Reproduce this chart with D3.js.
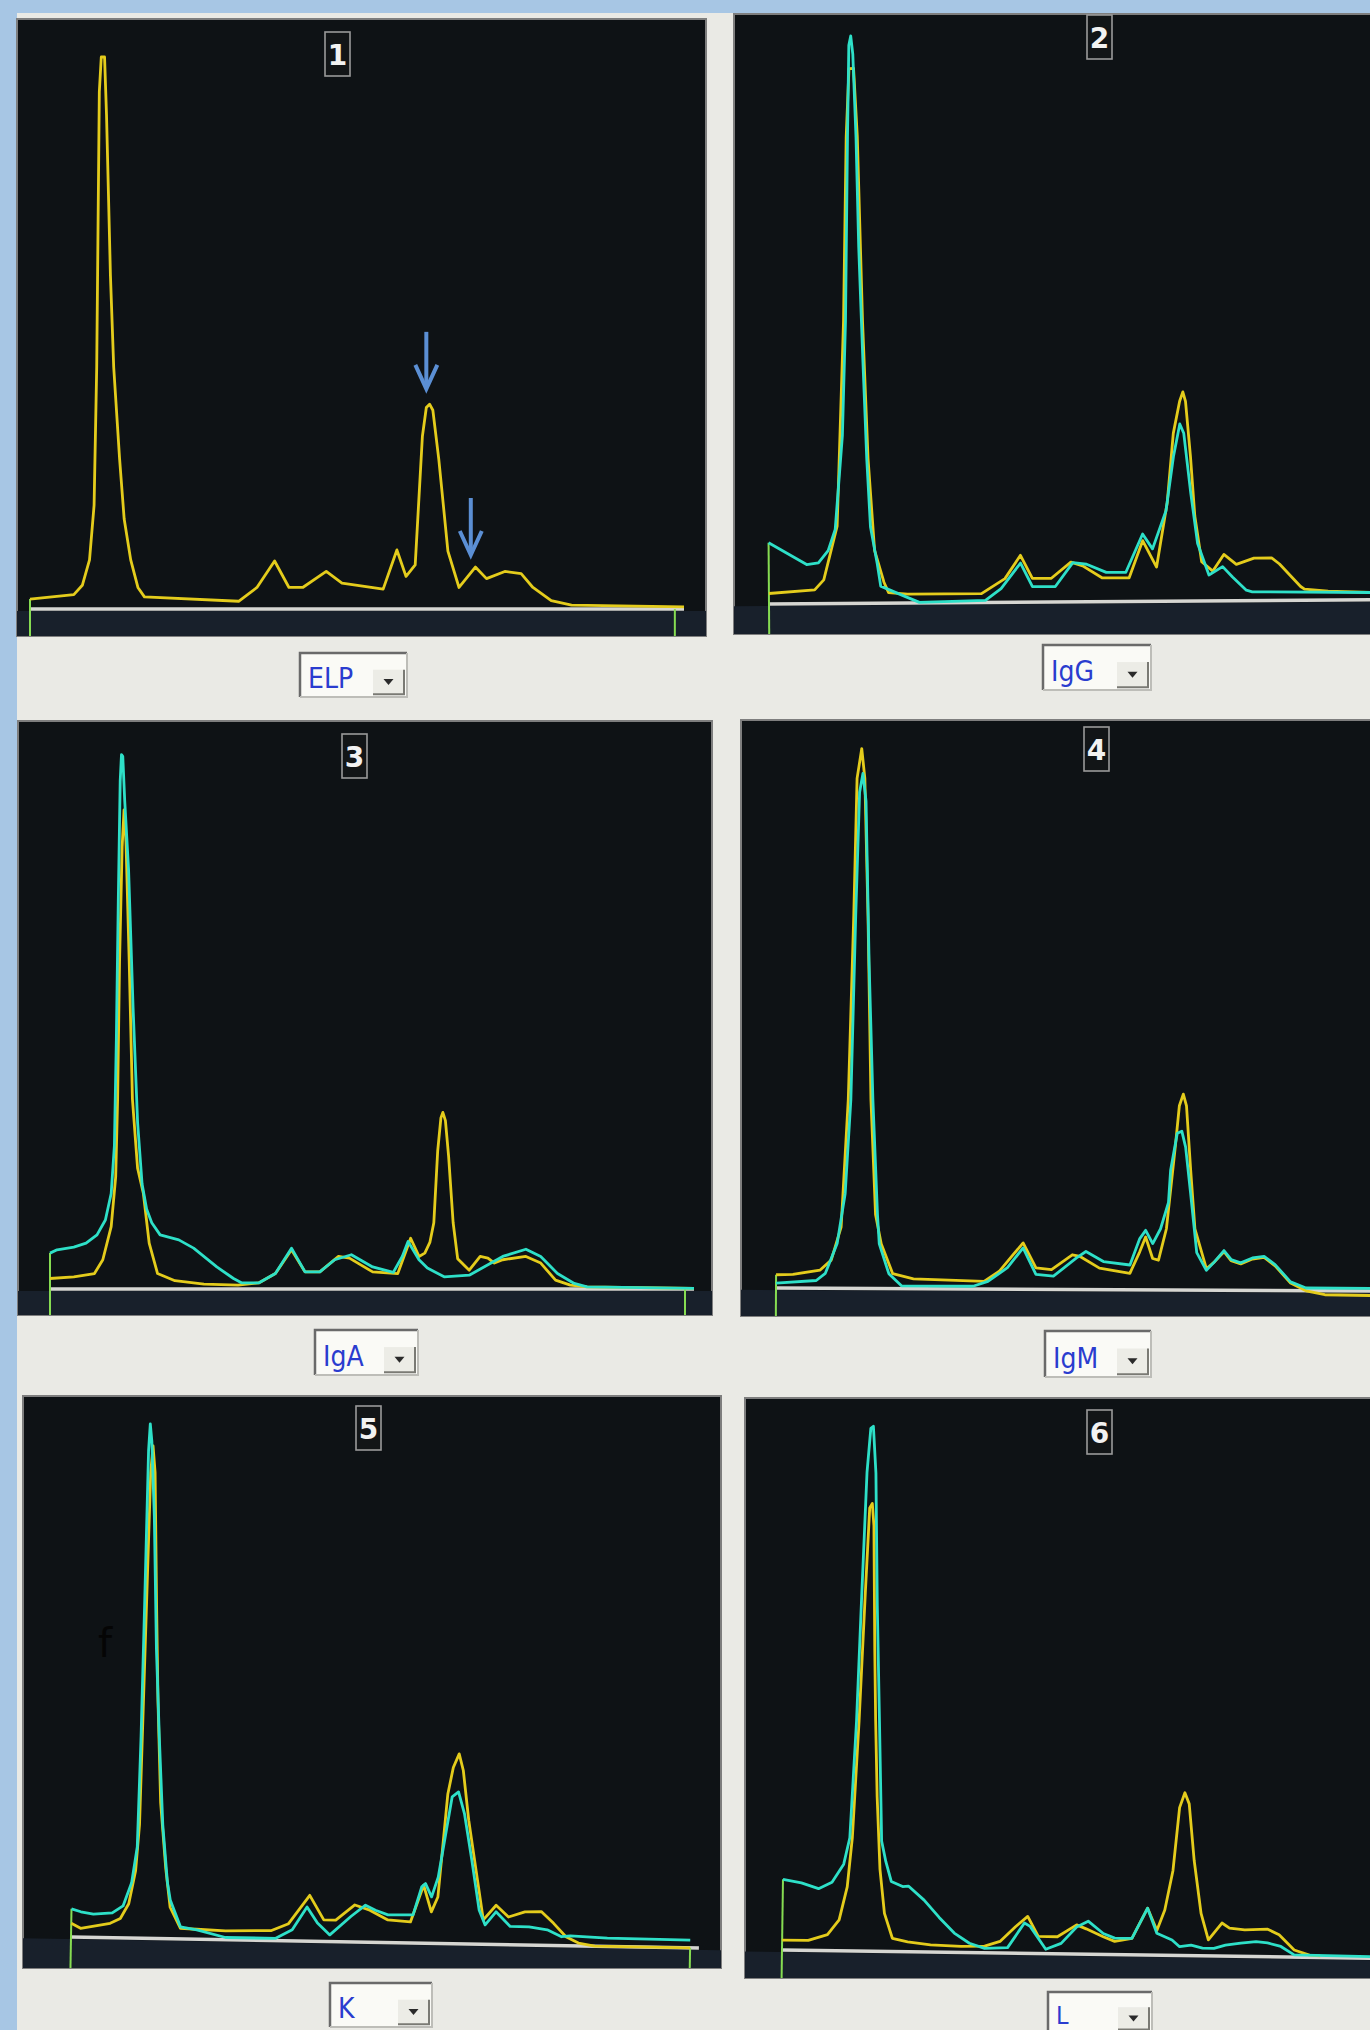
<!DOCTYPE html>
<html><head><meta charset="utf-8">
<script src="https://d3js.org/d3.v7.min.js"></script>
<style>html,body{margin:0;padding:0;background:#a7c6e4;overflow:hidden}</style>
</head><body><svg id="chart" width="1370" height="2030"></svg>
<script>
// ---------------- DATA ----------------
const categories = ["ELP", "IgG", "IgA", "IgM", "K", "L"];
const panelNumbers = ["1", "2", "3", "4", "5", "6"];
// densitometry traces: [migration position (0-100), relative density]
const elpYellow = [[0,1.8],[6.7,2.6],[8.0,4.3],[9.1,8.9],[9.8,18.8],[10.2,43.8],[10.4,68.7],[10.6,93.7],[10.9,100],[11.4,100],[11.7,89.5],[12.3,60.4],[12.8,43.8],[13.7,27.2],[14.4,16.3],[15.4,8.9],[16.5,3.9],[17.5,2.2],[31.9,1.4],[34.7,3.9],[37.4,8.7],[39.6,3.9],[41.7,3.9],[45.3,6.8],[47.7,4.7],[54.0,3.6],[56.1,10.7],[57.5,5.9],[58.9,8.0],[60.0,31.3],[60.6,36.5],[61.1,37.1],[61.6,36.0],[62.5,27.2],[63.9,10.5],[65.6,3.9],[68.1,7.6],[69.8,5.5],[72.6,6.8],[75.1,6.4],[76.9,3.9],[79.7,1.5],[82.8,0.7],[100,0.4]];
const igGYellow = [[0,1.9],[7.0,2.5],[8.4,4.3],[10.5,14.0],[11.7,51.2],[12.3,84.5],[12.8,96.9],[13.5,96.9],[14.0,84.5],[14.6,51.2],[15.3,26.2],[16.2,9.6],[17.6,3.8],[18.3,1.9],[21.2,1.6],[32.5,1.6],[36.1,4.3],[38.5,8.5],[40.3,4.3],[43.2,4.3],[46.2,7.2],[48.0,6.5],[51.0,4.3],[55.1,4.3],[57.2,11.0],[59.3,6.2],[61.0,17.9],[62.0,30.4],[63.0,36.2],[63.5,37.9],[63.9,36.2],[64.6,26.2],[65.2,15.4],[66.2,7.1],[67.9,5.4],[69.6,8.4],[71.5,6.6],[74.2,7.7],[76.9,7.7],[78.1,6.6],[81.3,2.5],[81.9,2.0],[85.5,1.6],[100,1.0]];
const igGCyan = [[0,11.1],[5.8,7.1],[7.6,7.4],[9.1,9.6],[10.2,13.4],[11.4,30.4],[12.0,51.2],[12.5,84.5],[12.8,101.1],[13.1,102.8],[13.4,99.5],[13.8,84.5],[14.1,64.5],[14.6,44.5],[15.1,26.2],[15.6,13.8],[16.6,7.1],[17.1,3.1],[20.6,1.3],[23.0,0.1],[33.1,0.4],[35.5,2.5],[38.5,7.1],[40.3,2.8],[43.8,2.8],[46.5,7.1],[48.6,6.8],[51.6,5.3],[54.6,5.3],[57.2,12.2],[58.7,9.5],[60.8,16.4],[62.0,26.2],[63.0,32.1],[63.6,30.4],[64.6,19.6],[65.6,10.4],[67.3,4.7],[69.4,6.2],[70.9,4.3],[73.0,1.9],[73.9,1.6],[100,1.2]];
const igAYellow = [[0,1.9],[3.7,2.2],[6.9,2.8],[8.2,5.3],[9.5,11.3],[10.2,20.3],[10.5,34.4],[10.8,59.3],[11.2,80.1],[11.5,86.8],[11.8,81.0],[12.3,59.3],[12.8,34.4],[13.6,21.9],[14.5,17.3],[15.4,8.3],[16.7,2.8],[19.4,1.5],[23.9,0.9],[29.2,0.7],[32.4,1.1],[35.0,2.8],[37.5,7.1],[39.6,3.1],[41.9,3.1],[44.8,5.9],[46.5,5.6],[50.1,3.1],[54.0,2.8],[56.0,9.2],[57.3,5.9],[58.2,6.5],[59.0,8.5],[59.6,12.0],[60.2,25.0],[60.7,31.0],[61.0,32.0],[61.4,30.5],[61.9,24.0],[62.6,12.0],[63.3,5.5],[65.1,3.4],[66.8,5.9],[68.0,5.6],[69.0,4.7],[70.3,5.3],[73.9,5.9],[76.2,4.7],[78.5,1.6],[80.8,0.7],[83.4,0.4],[100,0.1]];
const igACyan = [[0,6.5],[1.1,7.1],[3.7,7.6],[5.6,8.3],[7.3,9.8],[8.6,12.5],[9.5,17.3],[10.0,26.0],[10.3,45.0],[10.6,70.0],[10.9,92.0],[11.1,96.8],[11.3,96.5],[11.6,88.5],[12.2,76.0],[12.9,51.0],[13.6,30.2],[14.3,19.0],[15.0,14.5],[15.8,12.0],[17.1,9.8],[20.0,8.9],[22.3,7.4],[25.9,4.0],[28.5,1.9],[29.8,1.1],[32.4,1.1],[35.0,2.8],[37.5,7.4],[39.6,3.1],[41.9,3.1],[44.2,5.3],[46.8,6.2],[50.1,4.0],[53.3,3.0],[54.7,5.9],[55.6,8.6],[57.3,5.3],[58.6,3.8],[61.2,2.2],[65.1,2.5],[67.1,3.8],[70.3,5.9],[73.9,7.2],[76.2,5.9],[78.8,2.8],[81.4,1.0],[83.4,0.4],[100,0.1]];
const igMYellow = [[0,2.4],[2.6,2.5],[6.8,3.3],[8.5,5.1],[10.0,11.1],[11.0,34.2],[11.7,67.5],[12.1,92.4],[12.8,97.8],[13.3,92.4],[13.9,67.5],[14.5,34.2],[15.3,13.4],[16.2,8.1],[18.0,2.7],[21.2,1.8],[32.1,1.4],[34.5,3.3],[36.6,6.3],[38.1,8.4],[40.1,3.9],[42.5,3.6],[45.7,6.3],[46.9,6.0],[49.9,3.9],[54.6,3.0],[56.1,6.9],[57.0,9.6],[58.1,5.7],[59.0,5.4],[60.2,11.1],[61.5,25.9],[62.1,33.4],[62.7,35.5],[63.2,33.4],[63.9,21.7],[64.6,11.1],[66.4,3.9],[67.6,5.1],[69.1,7.0],[70.2,5.4],[71.7,4.8],[73.5,5.7],[75.3,6.0],[77.0,4.5],[79.4,1.4],[81.8,0.0],[84.7,-0.7],[100,-0.9]];
const igMCyan = [[0,0.9],[6.2,1.4],[7.6,2.7],[9.4,8.1],[10.6,17.2],[11.4,34.2],[12.0,67.5],[12.5,89.9],[13.0,93.3],[13.5,88.3],[14.1,59.2],[14.8,34.2],[15.6,13.4],[15.9,8.1],[17.4,2.7],[19.4,0.5],[30.4,0.5],[32.7,1.4],[35.7,3.9],[38.1,7.5],[40.1,2.7],[42.8,2.4],[46.3,5.7],[47.8,6.9],[50.5,5.1],[54.6,4.5],[56.1,9.3],[57.0,10.8],[58.1,8.4],[59.3,11.1],[60.5,15.9],[60.8,21.7],[61.8,28.4],[62.5,28.8],[63.1,25.9],[63.9,17.6],[64.9,6.8],[66.4,3.6],[67.6,5.1],[69.1,7.2],[70.2,5.6],[71.7,5.0],[73.5,5.9],[75.3,6.2],[77.0,4.7],[79.4,1.6],[81.8,0.5],[100,0.5]];
const kYellow = [[0,2.5],[1.5,1.6],[6.2,2.6],[7.8,3.5],[9.1,6.2],[10.1,12.2],[10.6,20.6],[11.0,52.5],[11.4,84.4],[11.7,89.2],[12.1,84.4],[12.7,60.5],[13.2,42.9],[13.9,24.6],[14.9,12.7],[15.7,5.7],[17.4,1.9],[20.0,1.8],[24.6,1.6],[31.9,1.8],[34.6,3.1],[37.9,8.3],[40.2,3.9],[42.1,3.9],[45.1,6.7],[47.5,5.8],[50.4,4.1],[54.0,3.8],[56.0,10.5],[57.3,5.7],[58.3,8.4],[59.6,27.1],[60.4,31.9],[61.3,34.4],[62.0,31.4],[63.0,22.4],[64.3,13.4],[65.6,4.4],[67.6,7.1],[69.6,5.0],[72.2,6.0],[74.8,6.1],[76.8,4.0],[78.8,1.6],[80.8,0.5],[83.4,0.0],[98.6,0.0]];
const kCyan = [[0,5.1],[1.5,4.6],[3.5,4.2],[6.5,4.5],[8.2,5.8],[9.5,10.0],[10.3,16.5],[10.6,36.6],[10.8,60.5],[11.0,88.4],[11.2,93.2],[11.5,90.0],[12.1,76.4],[12.8,52.5],[13.5,36.6],[14.3,20.6],[15.2,10.2],[15.7,7.0],[17.4,2.2],[20.0,1.7],[24.6,0.4],[32.6,0.4],[35.2,2.0],[37.5,6.2],[39.2,3.3],[41.2,1.2],[44.5,4.6],[46.8,6.7],[48.4,5.8],[50.4,5.0],[54.4,5.1],[55.7,10.2],[56.3,10.8],[57.3,8.4],[58.3,12.0],[59.3,19.3],[60.3,26.6],[61.3,27.5],[62.3,23.6],[63.6,15.2],[64.9,6.2],[65.9,3.5],[67.6,5.9],[69.9,3.3],[72.9,3.3],[75.8,2.8],[78.1,1.6],[79.5,1.8],[85.4,1.5],[98.6,1.4]];
const lYellow = [[0,1.8],[4.1,1.8],[7.1,2.9],[8.9,5.6],[10.1,11.6],[10.8,20.6],[11.6,41.7],[12.3,65.0],[12.8,80.3],[13.2,81.1],[13.5,77.1],[13.9,54.8],[14.2,41.7],[14.6,28.0],[15.2,14.9],[16.0,6.9],[17.3,2.4],[19.7,1.8],[23.3,1.3],[28.1,1.1],[31.8,1.2],[34.2,2.1],[36.6,4.8],[38.5,6.7],[40.2,3.1],[43.2,3.1],[46.2,5.3],[47.7,4.6],[50.4,3.2],[52.2,2.4],[54.9,3.0],[57.3,8.5],[58.8,4.5],[60.0,8.2],[61.2,15.4],[62.1,26.8],[62.9,29.5],[63.6,27.5],[64.5,17.3],[65.7,7.7],[66.9,2.9],[69.0,6.0],[70.2,5.1],[72.6,4.8],[76.2,5.0],[78.0,4.0],[80.4,1.3],[82.8,0.4],[84.5,0.3]];
const lCyan = [[0,12.8],[2.9,12.2],[5.6,11.2],[7.7,12.4],[9.5,15.7],[10.4,20.5],[11.2,41.7],[11.7,62.9],[12.3,86.8],[12.8,94.7],[13.2,95.1],[13.7,86.6],[14.2,62.7],[14.8,41.7],[15.4,20.0],[16.1,16.3],[17.0,12.7],[18.8,11.8],[19.7,11.9],[22.2,9.4],[24.6,6.3],[27.0,3.5],[29.4,1.7],[31.8,0.8],[35.4,1.0],[38.0,5.5],[38.9,4.9],[41.4,0.8],[43.8,1.9],[46.2,4.9],[48.0,6.0],[50.4,3.8],[52.2,3.0],[54.9,3.0],[57.3,8.5],[58.8,4.0],[61.2,2.8],[62.4,1.6],[64.2,1.9],[66.0,1.4],[67.8,1.4],[69.6,2.0],[72.0,2.4],[74.4,2.7],[76.2,2.5],[78.3,1.9],[80.4,0.4],[100,0.2]];
const yellowSeries = [elpYellow, igGYellow, igAYellow, igMYellow, kYellow, lYellow];
const cyanSeries = [null, igGCyan, igACyan, igMCyan, kCyan, lCyan];
const markerPositions = [0, 98.6];
const arrowTips = [[60.6, 39.7], [67.4, 9.6]];   // annotations on panel 1
const xDomain = [0, 100];
const yDomain = [0, 100];

// ---------------- LAYOUT ----------------
const layout = [
  {rect:[17,19,689,617],  x0:30,  w:654, base:609,  tilt:0,    label:[325,32],   dd:[300,653,107,44], fs:28},
  {rect:[734,14,680,620], x0:769, w:654, base:604,  tilt:-0.4, label:[1087,15],  dd:[1043,645,108,45], fs:28},
  {rect:[18,721,694,594], x0:50,  w:644, base:1289, tilt:0,    label:[342,734],  dd:[315,1330,103,45], fs:28},
  {rect:[741,720,680,596],x0:776, w:648, base:1288, tilt:0.3,  label:[1084,727], dd:[1045,1331,106,46], fs:28},
  {rect:[23,1396,698,572],x0:71,  w:628, base:1937, tilt:1.0,  label:[356,1406], dd:[330,1983,102,44], fs:28},
  {rect:[745,1398,680,580],x0:782,w:637, base:1950, tilt:0.8,  label:[1087,1410],dd:[1048,1992,104,40], fs:25}
];
const C = {yellow:"#e4cc1c", cyan:"#2ee0c8", panel:"#0e1215", band:"#18202b", base:"#d6d6d2", green:"#86dc52", arrow:"#5b8fd4", screen:"#eaeae5", blue:"#a7c6e4"};

const svg = d3.select("#chart");
svg.append("rect").attr("width",1370).attr("height",2030).attr("fill",C.blue);
svg.append("rect").attr("x",17).attr("y",13).attr("width",1360).attr("height",2030).attr("fill",C.screen);
const defs = svg.append("defs");

layout.forEach((L, i) => {
  const [rx, ry, rw, rh] = L.rect;
  defs.append("clipPath").attr("id","clip"+i).append("rect").attr("x",rx).attr("y",ry).attr("width",rw).attr("height",rh);
  const g = svg.append("g");
  g.append("rect").attr("x",rx).attr("y",ry).attr("width",rw).attr("height",rh)
    .attr("fill",C.panel).attr("stroke","#7e7e7e").attr("stroke-width",2);
  const inner = g.append("g").attr("clip-path","url(#clip"+i+")");
  const x = d3.scaleLinear().domain(xDomain).range([L.x0, L.x0 + L.w]);
  const y = d3.scaleLinear().domain(yDomain).range([L.base, L.base - 552]);
  const plot = inner.append("g").attr("transform",`rotate(${L.tilt},${L.x0},${L.base})`);
  plot.append("rect").attr("x",rx-40).attr("y",y(0)+2).attr("width",rw+80).attr("height",80).attr("fill",C.band);
  plot.append("line").attr("x1",x(0)).attr("x2",x(100)).attr("y1",y(0)).attr("y2",y(0))
    .attr("stroke",C.base).attr("stroke-width",3.5);
  const startV = d3.max([yellowSeries[i], cyanSeries[i]].filter(Boolean), s => s[0][1]);
  plot.append("line").attr("x1",x(markerPositions[0])).attr("x2",x(markerPositions[0]))
    .attr("y1",y(startV)).attr("y2",y(0)+80).attr("stroke",C.green).attr("stroke-width",2);
  plot.append("line").attr("x1",x(markerPositions[1])).attr("x2",x(markerPositions[1]))
    .attr("y1",y(0)).attr("y2",y(0)+80).attr("stroke",C.green).attr("stroke-width",2);
  const line = d3.line().x(d => x(d[0])).y(d => y(d[1]));
  plot.append("path").datum(yellowSeries[i]).attr("d",line).attr("fill","none")
    .attr("stroke",C.yellow).attr("stroke-width",2.8).attr("stroke-linejoin","round");
  if (cyanSeries[i]) {
    plot.append("path").datum(cyanSeries[i]).attr("d",line).attr("fill","none")
      .attr("stroke",C.cyan).attr("stroke-width",2.8).attr("stroke-linejoin","round");
  }
  const [lx, ly] = L.label;
  g.append("rect").attr("x",lx).attr("y",ly).attr("width",25).attr("height",44)
    .attr("fill","#121517").attr("stroke","#9a9a9a").attr("stroke-width",1.6);
  g.append("text").attr("x",lx+12.5).attr("y",ly+33).attr("text-anchor","middle")
    .attr("font-family","'DejaVu Sans', sans-serif").attr("font-weight","bold").attr("font-size",28)
    .attr("fill","#f2f2f2").text(panelNumbers[i]);
  if (i === 0) {
    arrowTips.forEach(t => {
      const tx = x(t[0]), ty = y(t[1]);
      plot.append("line").attr("x1",tx).attr("x2",tx).attr("y1",ty-58).attr("y2",ty-3)
        .attr("stroke",C.arrow).attr("stroke-width",4);
      plot.append("path").attr("d",`M${tx-11},${ty-25}L${tx},${ty-1}L${tx+11},${ty-25}`)
        .attr("fill","none").attr("stroke",C.arrow).attr("stroke-width",4).attr("stroke-linejoin","miter");
    });
  }
  if (i === 4) {
    g.append("text").attr("x",98).attr("y",1657).attr("font-family","'DejaVu Sans', sans-serif")
      .attr("font-size",40).attr("fill","#050505").text("f");
  }
  const [dx, dy, dw, dh] = L.dd;
  const dd = svg.append("g");
  dd.append("rect").attr("x",dx).attr("y",dy).attr("width",dw).attr("height",dh).attr("fill","#fafaf6");
  dd.append("path").attr("d",`M${dx},${dy+dh}V${dy}H${dx+dw}`).attr("fill","none").attr("stroke","#6a6a6a").attr("stroke-width",2.5);
  dd.append("path").attr("d",`M${dx+dw},${dy}V${dy+dh}H${dx}`).attr("fill","none").attr("stroke","#bdbdb8").attr("stroke-width",2);
  const bx = dx + dw - 34, by = dy + dh*0.38, bw = 31, bh = dh*0.56;
  dd.append("rect").attr("x",bx).attr("y",by).attr("width",bw).attr("height",bh).attr("fill","#ecece6");
  dd.append("path").attr("d",`M${bx},${by+bh}H${bx+bw}V${by}`).attr("fill","none").attr("stroke","#7a7a74").attr("stroke-width",2);
  const cx = bx + bw/2, cy = by + bh/2;
  dd.append("path").attr("d",`M${cx-5},${cy-3}L${cx+5},${cy-3}L${cx},${cy+3}Z`).attr("fill","#2a2a2a");
  dd.append("text").attr("x",dx+8).attr("y",dy+dh*0.8)
    .attr("font-family","'DejaVu Sans Condensed','DejaVu Sans',sans-serif").attr("font-size",L.fs)
    .attr("fill","#2a3ccf").text(categories[i]);
});
</script>
</body></html>
